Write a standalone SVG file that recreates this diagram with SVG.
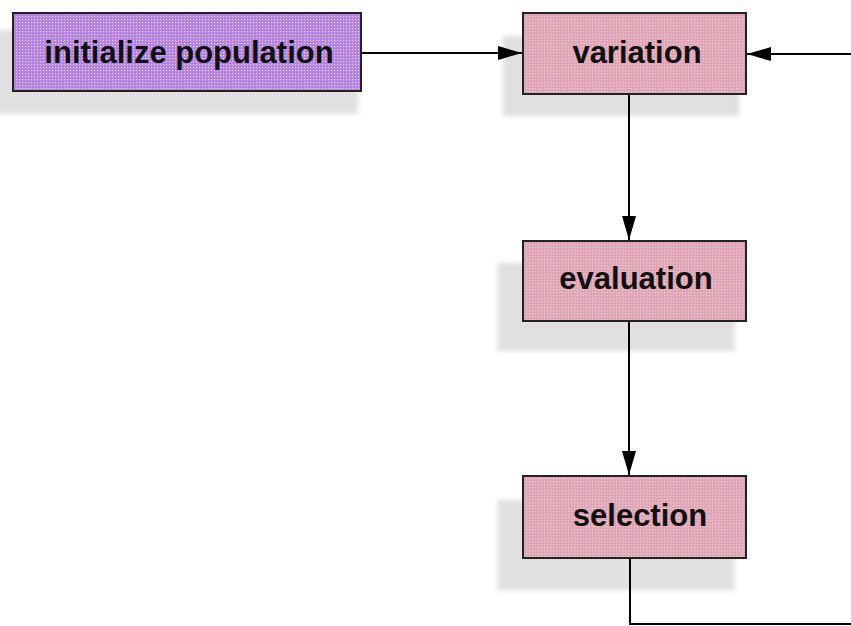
<svg xmlns="http://www.w3.org/2000/svg" width="851" height="626" viewBox="0 0 851 626">
<defs>
<pattern id="pPurple" width="3" height="3" patternUnits="userSpaceOnUse">
<rect width="3" height="3" fill="#b888e4"/>
<rect x="1" y="1" width="1" height="1" fill="#e4d4f4"/>
<rect x="0" y="0" width="1" height="1" fill="#a878d8"/>
</pattern>
<pattern id="pPink" width="3" height="3" patternUnits="userSpaceOnUse">
<rect width="3" height="3" fill="#e2a8bc"/>
<rect x="1" y="1" width="1" height="1" fill="#f0d0a8"/>
<rect x="0" y="0" width="1" height="1" fill="#d898c0"/>
</pattern>
<filter id="blur" x="-20%" y="-20%" width="140%" height="140%">
<feGaussianBlur stdDeviation="2.5"/>
</filter>
<marker id="arr" viewBox="0 0 24 14" refX="24" refY="7" markerWidth="24" markerHeight="14" markerUnits="userSpaceOnUse" orient="auto">
<path d="M0,0 L24,7 L0,14 Z" fill="#000"/>
</marker>
</defs>
<style>
.shadow{fill:#e0e0e0;filter:url(#blur);}
.box{stroke:#222;stroke-width:2;}
.lbl{font-family:"Liberation Sans",Arial,sans-serif;font-weight:bold;font-size:31px;fill:#111;text-anchor:middle;}
.edge{stroke:#000;stroke-width:2;fill:none;}
</style>
<rect width="851" height="626" fill="#fff"/>
<g id="init">
<rect class="shadow" x="-4" y="30" width="362" height="84"/>
<rect class="box" x="13" y="13" width="348" height="78" fill="url(#pPurple)"/>
<text class="lbl" x="189" y="63">initialize population</text>
</g>
<g id="variation">
<rect class="shadow" x="503" y="36" width="236" height="80"/>
<rect class="box" x="523" y="13" width="223" height="81" fill="url(#pPink)"/>
<text class="lbl" x="637" y="63">variation</text>
</g>
<g id="evaluation">
<rect class="shadow" x="497" y="263" width="238" height="88"/>
<rect class="box" x="523" y="241" width="223" height="80" fill="url(#pPink)"/>
<text class="lbl" x="636" y="289">evaluation</text>
</g>
<g id="selection">
<rect class="shadow" x="497" y="500" width="238" height="90"/>
<rect class="box" x="523" y="476" width="223" height="82" fill="url(#pPink)"/>
<text class="lbl" x="640" y="526">selection</text>
</g>
<g id="connectors">
<line class="edge" x1="362" y1="53" x2="522" y2="53" marker-end="url(#arr)"/>
<line class="edge" x1="851" y1="54" x2="747" y2="54" marker-end="url(#arr)"/>
<line class="edge" x1="629" y1="95" x2="629" y2="240" marker-end="url(#arr)"/>
<line class="edge" x1="629" y1="322" x2="629" y2="475" marker-end="url(#arr)"/>
<polyline class="edge" points="630,559 630,624 851,624"/>
</g>
</svg>
